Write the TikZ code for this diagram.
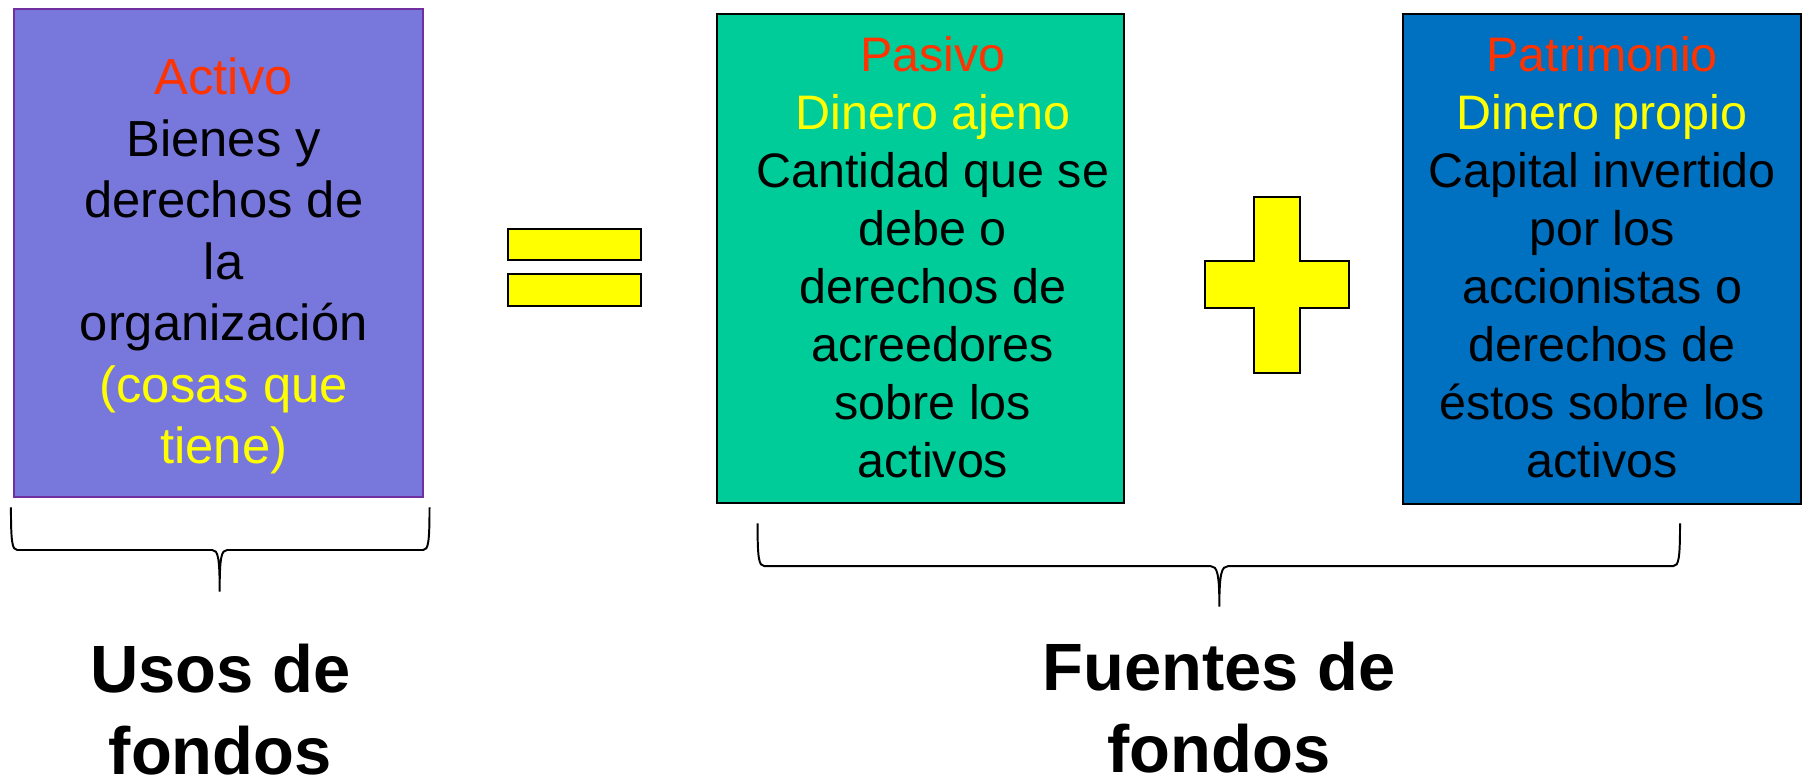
\documentclass[tikz,border=0pt]{standalone}
\usepackage{fontspec}
\setmainfont{Liberation Sans}
\definecolor{activofill}{RGB}{120,120,220}
\definecolor{activoborder}{RGB}{112,48,160}
\definecolor{pasivofill}{RGB}{0,204,153}
\definecolor{patrifill}{RGB}{0,112,192}
\definecolor{titlered}{RGB}{255,51,0}
\definecolor{hiyellow}{RGB}{255,255,0}
\begin{document}
\begin{tikzpicture}[x=1pt,y=-1pt,
  panel/.style={draw=black,line width=1.7pt,inner sep=0pt,outer sep=0pt},
  bodytext/.style={inner sep=0pt,align=center,anchor=north,text=black},
  signshape/.style={draw=black,fill=hiyellow,line width=1.7pt},
  bar/.style={signshape,inner sep=0pt,minimum width=115pt,minimum height=27pt},
  brace/.style={draw=black,line width=1.7pt},
  footer/.style={inner sep=0pt,align=center,anchor=north,font=\fontsize{58}{71}\selectfont\bfseries}]
\useasboundingbox (0,0) rectangle (1568,676.4);

% boxes
\node[panel,draw=activoborder,line width=1.3pt,fill=activofill,minimum width=355pt,minimum height=423pt] (activo) at (189.5,219.5) {};
\node[panel,fill=pasivofill,minimum width=353pt,minimum height=424pt] (pasivo) at (798.5,224) {};
\node[panel,fill=patrifill,minimum width=345pt,minimum height=425pt] (patrimonio) at (1389.5,224.5) {};

% box texts
\node[bodytext,font=\fontsize{44}{53.3}\selectfont] (activotxt) at (194,44.7)
  {\strut\textcolor{titlered}{Activo}\\Bienes y\\derechos de\\la\\organización\\\textcolor{hiyellow}{(cosas que}\\\textcolor{hiyellow}{tiene)}};
\node[bodytext,font=\fontsize{42}{50.3}\selectfont] (pasivotxt) at (809,26.8)
  {\strut\textcolor{titlered}{Pasivo}\\\textcolor{hiyellow}{Dinero ajeno}\\Cantidad que se\\debe o\\derechos de\\acreedores\\sobre los\\activos};
\node[bodytext,font=\fontsize{42}{50.3}\selectfont] (patritxt) at (1389.5,26.8)
  {\strut\textcolor{titlered}{Patrimonio}\\\textcolor{hiyellow}{Dinero propio}\\Capital invertido\\por los\\accionistas o\\derechos de\\éstos sobre los\\activos};

% equals sign
\node[bar] (eqtop) at (498,212) {};
\node[bar] (eqbot) at (498,251.5) {};

% plus sign
\draw[signshape] (1087.6,170.6) -- (1127.5,170.6) -- (1127.5,226.6) -- (1170,226.6)
  -- (1170,266.8) -- (1127.5,266.8) -- (1127.5,323.2) -- (1087.6,323.2)
  -- (1087.6,266.8) -- (1045,266.8) -- (1045,226.6) -- (1087.6,226.6) -- cycle;

% braces
\draw[brace] (9.5,440) .. controls (9.5,470) and (10.5,477) .. (15,477)
  -- (184,477) .. controls (189,477) and (190.5,483) .. (190.5,513)
  .. controls (190.5,483) and (192,477) .. (197,477)
  -- (367,477) .. controls (371.5,477) and (372.5,470) .. (372.5,440);
\draw[brace] (657,454) .. controls (657,484) and (658,491) .. (663,491)
  -- (1050,491) .. controls (1055.5,491) and (1057.5,497) .. (1057.5,526)
  .. controls (1057.5,497) and (1059.5,491) .. (1065,491)
  -- (1451,491) .. controls (1456,491) and (1457,484) .. (1457,454);

% footers
\node[footer] (usos) at (191,558.3) {Usos de\\fondos};
\node[footer] (fuentes) at (1057,556.3) {Fuentes de\\fondos};
\end{tikzpicture}
\end{document}
